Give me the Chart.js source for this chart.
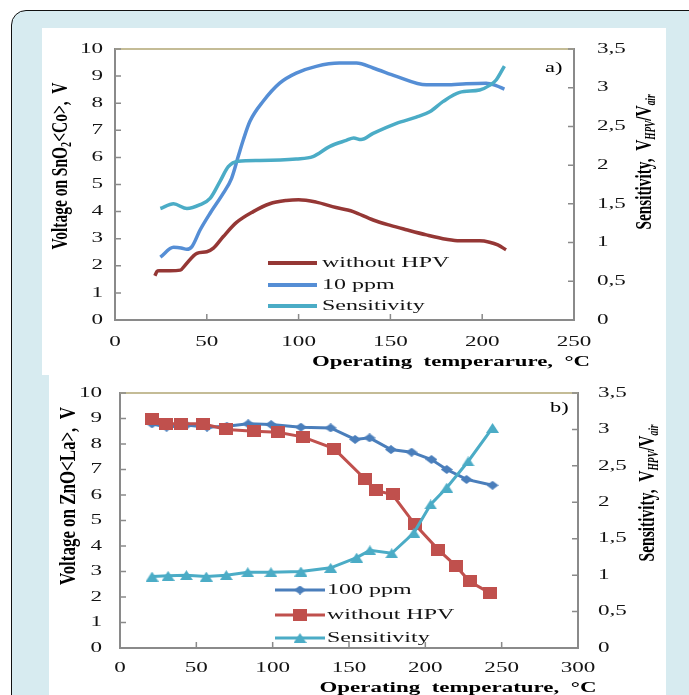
<!DOCTYPE html>
<html lang="en">
<head>
<meta charset="UTF-8">
<title>Voltage and sensitivity vs operating temperature</title>
<script src="https://cdn.jsdelivr.net/npm/chart.js@4"></script>
<style>
  html, body { margin: 0; padding: 0; background: #fff; }
  body { width: 689px; height: 695px; position: relative; overflow: hidden; }
  #frame { position: absolute; left: 11px; top: 10px; width: 720px; height: 720px;
           background: #d7ebf0; border: 1.5px solid #111; border-radius: 15px; }
  canvas { position: absolute; background: #fff; }
  #chartA { left: 42px; top: 28px; }
  #chartB { left: 49px; top: 375px; }
</style>
</head>
<body>
<div id="frame"></div>
<canvas id="chartA" width="624" height="347"></canvas>
<canvas id="chartB" width="617" height="320"></canvas>
<script>
// ---- a) SnO2<Co> : smooth curves ----
const tempA_noHPV = [21.7, 22.9, 24, 30, 35.6, 38.3, 44.6, 50, 53.6, 59, 66.2, 75.3, 84.3, 93.3, 100, 109.6, 120.4, 126.7, 129.7, 140.6, 150, 158.7, 169.6, 180.4, 187.7, 198.6, 204, 208.5, 213];
const voltA_noHPV = [1.63, 1.79, 1.82, 1.82, 1.84, 2.03, 2.46, 2.52, 2.65, 3.08, 3.6, 4.0, 4.29, 4.41, 4.44, 4.35, 4.15, 4.06, 4.0, 3.69, 3.49, 3.33, 3.14, 2.98, 2.92, 2.92, 2.87, 2.77, 2.59];

const tempA_10ppm = [24.7, 31.9, 36, 39.2, 41.9, 46.4, 51.8, 59, 63.5, 67.1, 69.9, 73.5, 80.7, 89.7, 98.7, 109.6, 122.2, 131.5, 140.6, 153.3, 169.6, 180.4, 191.3, 202.2, 207.6, 212.1];
const voltA_10ppm = [2.32, 2.68, 2.66, 2.61, 2.71, 3.33, 3.94, 4.68, 5.23, 6.03, 6.65, 7.33, 8.07, 8.74, 9.11, 9.36, 9.48, 9.48, 9.3, 8.99, 8.68, 8.68, 8.72, 8.74, 8.65, 8.52];

const tempA_sens = [24.7, 31.9, 39.2, 46.4, 51.8, 57.2, 61.7, 67.1, 78.9, 98.7, 107.8, 116.8, 126, 130, 134, 140.6, 153.3, 164.1, 171.4, 178.6, 187.7, 198.6, 204, 207.6, 212.1];
const sensA = [1.44, 1.50, 1.44, 1.49, 1.57, 1.79, 1.98, 2.05, 2.06, 2.08, 2.11, 2.24, 2.32, 2.35, 2.33, 2.41, 2.54, 2.62, 2.69, 2.82, 2.94, 2.97, 3.03, 3.10, 3.28];

// ---- b) ZnO<La> : markers ----
const tempB_100ppm = [21, 30.5, 43.5, 57, 70, 84, 99, 118.5, 138, 154, 163.5, 177.5, 191, 204, 214, 227, 244];
const voltB_100ppm = [8.79, 8.66, 8.74, 8.66, 8.7, 8.79, 8.76, 8.66, 8.63, 8.18, 8.24, 7.78, 7.68, 7.39, 7.0, 6.61, 6.38];

const tempB_noHPV = [20.7, 30.4, 40.2, 54.3, 69.6, 88, 103.3, 119.6, 140.2, 160.3, 167.4, 178.5, 193.1, 208.6, 220, 229, 242.5];
const voltB_noHPV = [9.0, 8.79, 8.79, 8.79, 8.57, 8.5, 8.46, 8.28, 7.82, 6.64, 6.18, 6.02, 4.85, 3.85, 3.22, 2.61, 2.15];

const tempB_sens = [21, 31.5, 43.5, 56.5, 69.6, 83.7, 98.9, 118.5, 138, 155, 163.7, 178, 192.5, 203.5, 214, 228, 244];
const sensB = [0.98, 0.99, 1.0, 0.98, 1.0, 1.04, 1.04, 1.05, 1.1, 1.24, 1.34, 1.3, 1.58, 1.97, 2.2, 2.56, 3.02];

// ---- ticks ----
const voltTicks = [0, 1, 2, 3, 4, 5, 6, 7, 8, 9, 10];
const voltLabels = ['0', '1', '2', '3', '4', '5', '6', '7', '8', '9', '10'];
const sensTicks = [0, 0.5, 1, 1.5, 2, 2.5, 3, 3.5];
const sensLabels = ['0', '0,5', '1', '1,5', '2', '2,5', '3', '3,5'];
const tempTicksA = [0, 50, 100, 150, 200, 250];
const tempLabelsA = ['0', '50', '100', '150', '200', '250'];
const tempTicksB = [0, 50, 100, 150, 200, 250, 300];
const tempLabelsB = ['0', '50', '100', '150', '200', '250', '300'];

const SERIF = '"Liberation Serif", "Times New Roman", serif';
const INK = '#141414';
const AXIS = '#8a8a8a';

function pts(xs, ys) { return xs.map((x, i) => ({ x: x, y: ys[i] })); }

// small marker images (the figure is stretched sideways, so marks are wider than tall)
function marker(kind, w, h, color) {
  const c = document.createElement('canvas');
  c.width = w; c.height = h;
  const g = c.getContext('2d');
  g.fillStyle = color;
  g.beginPath();
  if (kind === 'square') g.rect(0, 0, w, h);
  else if (kind === 'diamond') { g.moveTo(w / 2, 0); g.lineTo(w, h / 2); g.lineTo(w / 2, h); g.lineTo(0, h / 2); }
  else { g.moveTo(w / 2, 0); g.lineTo(w, h); g.lineTo(0, h); }
  g.closePath();
  g.fill();
  return c;
}

// text stretched horizontally
function wideText(ctx, str, x, y, font, sx, align) {
  ctx.save();
  ctx.font = font;
  const w = ctx.measureText(str).width * sx;
  const x0 = align === 'right' ? x - w : align === 'center' ? x - w / 2 : x;
  ctx.translate(x0, y);
  ctx.scale(sx, 1);
  ctx.textAlign = 'left';
  ctx.textBaseline = 'middle';
  ctx.fillText(str, 0, 0);
  ctx.restore();
}

// rotated title made of segments (for subscripts), fitted to a given length
function sideTitle(ctx, t) {
  ctx.save();
  let total = 0;
  t.segs.forEach(s => { ctx.font = s.font; s.w = ctx.measureText(s.t).width; total += s.w; });
  ctx.translate(t.cx, t.cy);
  ctx.rotate(-Math.PI / 2);
  ctx.scale(t.len / total, 1);
  ctx.textBaseline = 'middle';
  ctx.textAlign = 'left';
  let x = -total / 2;
  t.segs.forEach(s => { ctx.font = s.font; ctx.fillText(s.t, x, s.dy || 0); x += s.w; });
  ctx.restore();
}

const decor = {
  id: 'decor',
  afterDraw(chart, args, o) {
    const ctx = chart.ctx, a = chart.chartArea;
    const { x, y, y2 } = chart.scales;
    ctx.save();
    // top edge of plot area
    ctx.strokeStyle = '#c4bc96';
    ctx.lineWidth = 2;
    ctx.beginPath(); ctx.moveTo(a.left, a.top); ctx.lineTo(a.right, a.top); ctx.stroke();

    // inward tick marks
    ctx.strokeStyle = AXIS;
    ctx.lineWidth = 1.5;
    ctx.beginPath();
    y.ticks.forEach(t => { const p = y.getPixelForValue(t.value); ctx.moveTo(a.left, p); ctx.lineTo(a.left + 6, p); });
    y2.ticks.forEach(t => { const p = y2.getPixelForValue(t.value); ctx.moveTo(a.right - 6, p); ctx.lineTo(a.right, p); });
    x.ticks.forEach(t => { const p = x.getPixelForValue(t.value); ctx.moveTo(p, a.bottom); ctx.lineTo(p, a.bottom - 6); });
    ctx.stroke();

    // tick labels
    ctx.fillStyle = INK;
    const tf = '14px ' + SERIF;
    y.ticks.forEach((t, i) => wideText(ctx, o.yLabels[i], a.left - o.yPad, y.getPixelForValue(t.value), tf, 1.65, 'right'));
    y2.ticks.forEach((t, i) => wideText(ctx, o.y2Labels[i], a.right + o.y2Pad, y2.getPixelForValue(t.value), tf, 1.65, 'left'));
    x.ticks.forEach((t, i) => wideText(ctx, o.xLabels[i], x.getPixelForValue(t.value), a.bottom + o.xPad, tf, 1.65, 'center'));

    // axis titles
    ctx.fillStyle = '#000';
    sideTitle(ctx, o.leftTitle);
    sideTitle(ctx, o.rightTitle);
    ctx.font = 'bold 15px ' + SERIF;
    const bw = ctx.measureText(o.xTitle.text).width;
    wideText(ctx, o.xTitle.text, o.xTitle.cx, o.xTitle.cy, 'bold 15px ' + SERIF, o.xTitle.span / bw, 'center');

    // panel tag
    wideText(ctx, o.tag.text, o.tag.x, o.tag.y, '14px ' + SERIF, 1.6, 'left');

    // legend inside the plot
    const L = o.legend;
    chart.data.datasets.forEach((ds, i) => {
      const ry = L.rows[i];
      ctx.strokeStyle = ds.borderColor;
      ctx.lineWidth = L.lineWidth;
      ctx.beginPath(); ctx.moveTo(L.x0, ry); ctx.lineTo(L.x1, ry); ctx.stroke();
      if (ds.pointStyle && typeof ds.pointStyle === 'object') {
        const m = ds.pointStyle;
        ctx.drawImage(m, (L.x0 + L.x1) / 2 - m.width / 2, ry - m.height / 2);
      }
      ctx.fillStyle = INK;
      wideText(ctx, ds.label, L.textX, ry, '15px ' + SERIF, 1.6, 'left');
    });
    ctx.restore();
  }
};

function makeScales(xMax, xTicks, leftW, rightW, bottomH) {
  const hidden = { display: false, drawTicks: false, drawOnChartArea: false };
  return {
    x: {
      type: 'linear', min: 0, max: xMax,
      afterBuildTicks: s => { s.ticks = xTicks.map(v => ({ value: v })); },
      afterFit: s => { s.height = bottomH; },
      ticks: { display: false }, grid: hidden,
      border: { color: AXIS, width: 2 }
    },
    y: {
      type: 'linear', position: 'left', min: 0, max: 10,
      afterBuildTicks: s => { s.ticks = voltTicks.map(v => ({ value: v })); },
      afterFit: s => { s.width = leftW; },
      ticks: { display: false }, grid: hidden,
      border: { color: AXIS, width: 2 }
    },
    y2: {
      type: 'linear', position: 'right', min: 0, max: 3.5,
      afterBuildTicks: s => { s.ticks = sensTicks.map(v => ({ value: v })); },
      afterFit: s => { s.width = rightW; },
      ticks: { display: false }, grid: hidden,
      border: { color: AXIS, width: 2 }
    }
  };
}

const titleFont = 'bold 23px ' + SERIF;
const subFont = 'bold 15px ' + SERIF;
const subItalic = 'italic bold 14px ' + SERIF;

// ---------- chart a ----------
new Chart(document.getElementById('chartA'), {
  type: 'line',
  data: {
    datasets: [
      { label: 'without HPV', data: pts(tempA_noHPV, voltA_noHPV), yAxisID: 'y', borderColor: '#953735', borderWidth: 3.5, pointRadius: 0, cubicInterpolationMode: 'monotone', order: 2 },
      { label: '10 ppm', data: pts(tempA_10ppm, voltA_10ppm), yAxisID: 'y', borderColor: '#558ed5', borderWidth: 3.5, pointRadius: 0, cubicInterpolationMode: 'monotone', order: 1 },
      { label: 'Sensitivity', data: pts(tempA_sens, sensA), yAxisID: 'y2', borderColor: '#4bacc6', borderWidth: 3.5, pointRadius: 0, cubicInterpolationMode: 'monotone', order: 0 }
    ]
  },
  options: {
    responsive: false, animation: false, devicePixelRatio: 1,
    layout: { padding: { top: 21, left: 0, right: 0, bottom: 0 } },
    scales: makeScales(250, tempTicksA, 73, 92, 55),
    plugins: {
      legend: { display: false }, tooltip: { enabled: false },
      decor: {
        yLabels: voltLabels, y2Labels: sensLabels, xLabels: tempLabelsA,
        yPad: 12, y2Pad: 23, xPad: 22,
        leftTitle: { cx: 19, cy: 138, len: 167, segs: [
          { t: 'Voltage on SnO', font: titleFont }, { t: '2', font: subFont, dy: 6 },
          { t: '<Co>,  V', font: titleFont } ] },
        rightTitle: { cx: 603, cy: 134, len: 135, segs: [
          { t: 'Sensitivity,  V', font: titleFont }, { t: 'HPV', font: subItalic, dy: 6 },
          { t: '/V', font: titleFont }, { t: 'air', font: subItalic, dy: 6 } ] },
        xTitle: { text: 'Operating  temperarure,  °C', cx: 409, cy: 334, span: 278 },
        tag: { text: 'a)', x: 503, y: 40 },
        legend: { x0: 226, x1: 275, textX: 280, rows: [235, 257, 278], lineWidth: 4 }
      }
    }
  },
  plugins: [decor]
});

// ---------- chart b ----------
new Chart(document.getElementById('chartB'), {
  type: 'line',
  data: {
    datasets: [
      { label: '100 ppm', data: pts(tempB_100ppm, voltB_100ppm), yAxisID: 'y', borderColor: '#4a7ebb', borderWidth: 3, tension: 0,
        pointStyle: marker('diamond', 12, 9, '#4a7ebb'), pointRadius: 6, order: 2 },
      { label: 'without HPV', data: pts(tempB_noHPV, voltB_noHPV), yAxisID: 'y', borderColor: '#c0504d', borderWidth: 3, tension: 0,
        pointStyle: marker('square', 14, 12, '#c0504d'), pointRadius: 7, order: 1 },
      { label: 'Sensitivity', data: pts(tempB_sens, sensB), yAxisID: 'y2', borderColor: '#4bacc6', borderWidth: 3, tension: 0,
        pointStyle: marker('triangle', 13, 10, '#4bacc6'), pointRadius: 6, order: 0 }
    ]
  },
  options: {
    responsive: false, animation: false, devicePixelRatio: 1,
    layout: { padding: { top: 18, left: 0, right: 0, bottom: 0 } },
    scales: makeScales(300, tempTicksB, 71, 88, 47),
    plugins: {
      legend: { display: false }, tooltip: { enabled: false },
      decor: {
        yLabels: voltLabels, y2Labels: sensLabels, xLabels: tempLabelsB,
        yPad: 18, y2Pad: 20, xPad: 20,
        leftTitle: { cx: 20, cy: 121, len: 178, segs: [
          { t: 'Voltage on ZnO<La>,  V', font: titleFont } ] },
        rightTitle: { cx: 599, cy: 118, len: 137, segs: [
          { t: 'Sensitivity,  V', font: titleFont }, { t: 'HPV', font: subItalic, dy: 6 },
          { t: '/V', font: titleFont }, { t: 'air', font: subItalic, dy: 6 } ] },
        xTitle: { text: 'Operating  temperature,  °C', cx: 409, cy: 313, span: 277 },
        tag: { text: 'b)', x: 501, y: 33 },
        legend: { x0: 226, x1: 276, textX: 278, rows: [215, 240, 263], lineWidth: 3 }
      }
    }
  },
  plugins: [decor]
});
</script>
</body>
</html>
